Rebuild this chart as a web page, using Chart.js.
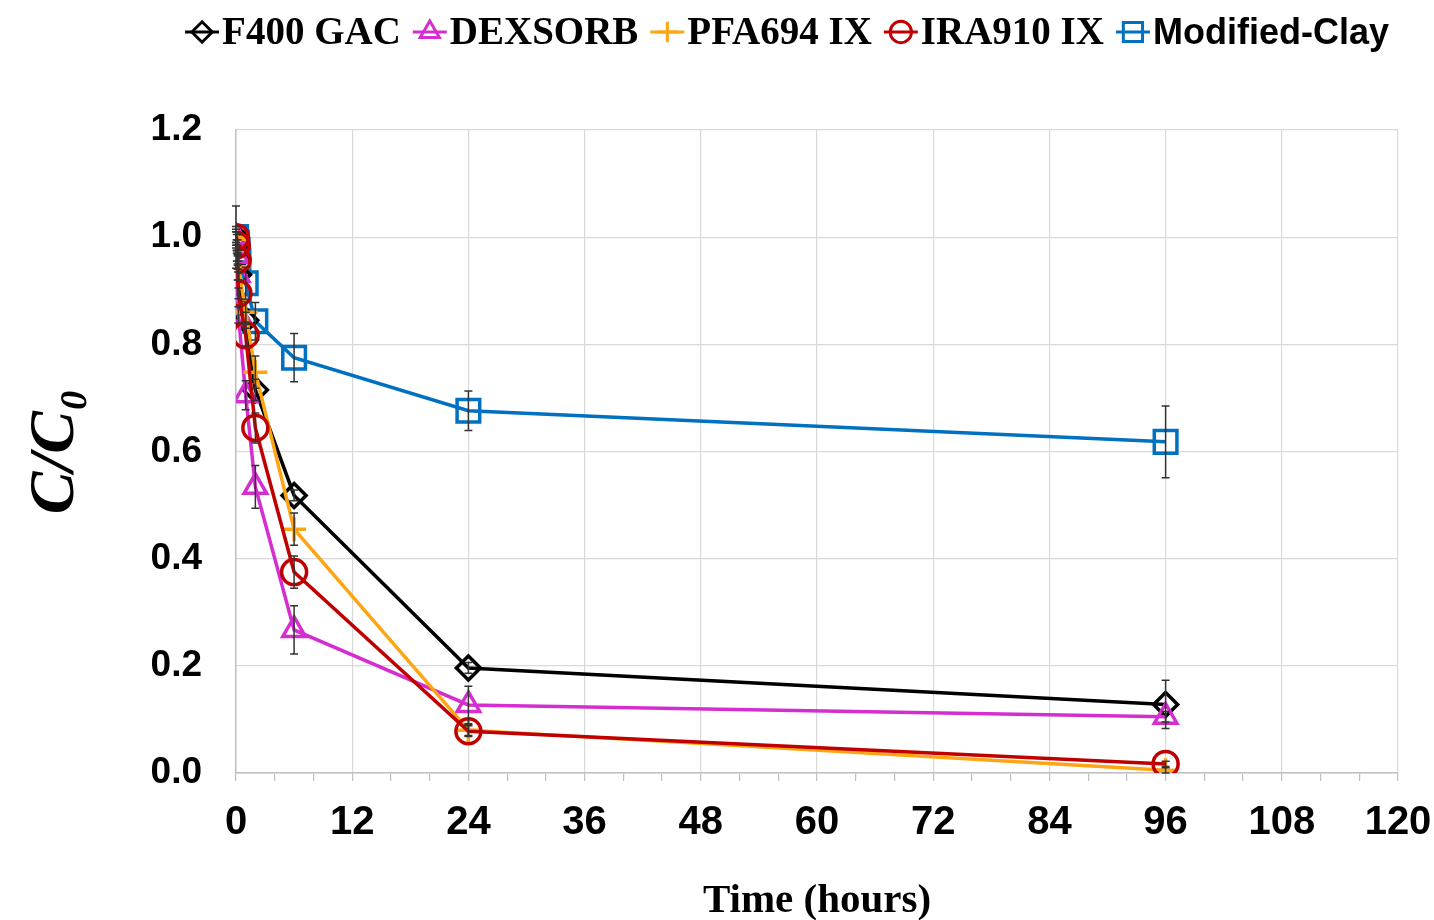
<!DOCTYPE html>
<html>
<head>
<meta charset="utf-8">
<script src="https://cdn.jsdelivr.net/npm/chart.js@4.4.1/dist/chart.umd.min.js"></script>
<style>
    html, body { margin: 0; padding: 0; background: #ffffff; }
    #chart_wrap { width: 1434px; height: 920px; }
</style>
</head>
<body>
<div id="chart_wrap"><canvas id="line_cc0" width="1434" height="920"></canvas></div>
<script>
/****
data
*****/
/* sampling times (hours) */
const times = [0, 0.083, 0.167, 0.25, 1, 2, 6, 24, 96];
/* C/C0 per adsorbent */
const f400Gac     = [1.000, 0.985, 0.960, 0.930, 0.845, 0.715, 0.518, 0.196, 0.128];
const dexsorb     = [1.000, 0.965, 0.930, 0.855, 0.705, 0.534, 0.267, 0.127, 0.105];
const pfa694      = [1.000, 0.995, 0.975, 0.945, 0.860, 0.748, 0.455, 0.080, 0.005];
const ira910      = [1.000, 0.985, 0.957, 0.895, 0.817, 0.644, 0.375, 0.078, 0.017];
const modClay     = [1.000, 0.990, 0.975, 0.955, 0.914, 0.843, 0.775, 0.676, 0.618];
/* error bars (+/-) */
const f400GacErr  = [0.020, 0.010, 0.010, 0.010, 0.015, 0.020, 0.010, 0.010, 0.045];
const dexsorbErr  = [0.015, 0.010, 0.010, 0.015, 0.027, 0.040, 0.045, 0.035, 0.010];
const pfa694Err   = [0.010, 0.010, 0.010, 0.010, 0.020, 0.030, 0.030, 0.010, 0.005];
const ira910Err   = [0.010, 0.010, 0.010, 0.010, 0.020, 0.028, 0.030, 0.010, 0.005];
const modClayErr  = [0.058, 0.020, 0.020, 0.020, 0.030, 0.035, 0.045, 0.037, 0.067];
/* labels */
const seriesNames = ['F400 GAC', 'DEXSORB', 'PFA694 IX', 'IRA910 IX', 'Modified-Clay'];
const xTicks      = [0, 12, 24, 36, 48, 60, 72, 84, 96, 108, 120];
const yTicks      = [0.0, 0.2, 0.4, 0.6, 0.8, 1.0, 1.2];


/*****
helpers
******/
const serifFont = "'Liberation Serif', 'Times New Roman', serif";
const sansFont  = "'Liberation Sans', Arial, sans-serif";

const toPoints = (vals)=>{
    return times.map((t, i)=>({x: t, y: vals[i]}));
};

const makeSet = (name, vals, errs, color, style, radius, order, legendFont)=>{
    return {
        label: name,
        data: toPoints(vals),
        errors: errs,
        legendFont: legendFont,
        borderColor: color,
        backgroundColor: 'rgba(0,0,0,0)',
        borderWidth: 3.5,
        pointStyle: style,
        pointRadius: radius,
        pointBorderWidth: 3.5,
        pointBorderColor: color,
        pointBackgroundColor: 'rgba(0,0,0,0)',
        tension: 0,
        order: order
    };
};


/*********
error bars
**********/
const errorBars = {
    id: 'errorBars',
    afterDatasetsDraw(chart){
        let ctx = chart.ctx;
        let xs  = chart.scales.x;
        let ys  = chart.scales.y;
        ctx.save();
        ctx.strokeStyle = '#333333';
        ctx.lineWidth   = 1.5;
        chart.data.datasets.forEach((ds)=>{
            ds.data.forEach((p, j)=>{
                let e = ds.errors[j];
                if( !e){ return; };
                let px  = xs.getPixelForValue(p.x);
                let top = ys.getPixelForValue(p.y + e);
                let bot = ys.getPixelForValue(Math.max(p.y - e, 0));
                ctx.beginPath();
                ctx.moveTo(px, top);
                ctx.lineTo(px, bot);
                ctx.moveTo(px - 4, top);
                ctx.lineTo(px + 4, top);
                ctx.moveTo(px - 4, bot);
                ctx.lineTo(px + 4, bot);
                ctx.stroke();
            });
        });
        ctx.restore();
    }
};


/**********************************
legend (line + marker, own fonts)
***********************************/
const topLegend = {
    id: 'topLegend',
    afterDraw(chart, args, opts){
        let ctx     = chart.ctx;
        let iconW   = 34;
        let textGap = 3;
        let itemGap = 12;
        let items   = chart.data.datasets.map((ds)=>{
            ctx.font = ds.legendFont;
            return { ds: ds, w: ctx.measureText(ds.label).width };
        });
        let total = items.reduce((s, it)=> s + iconW + textGap + it.w, 0) + itemGap * (items.length - 1);
        let x = opts.centerX - total / 2;
        let y = opts.centerY;
        ctx.save();
        items.forEach((it)=>{
            let ds = it.ds;
            ctx.strokeStyle = ds.borderColor;
            ctx.lineWidth   = 3;
            ctx.beginPath();
            ctx.moveTo(x, y);
            ctx.lineTo(x + iconW, y);
            ctx.stroke();
            ctx.fillStyle = 'rgba(0,0,0,0)';
            Chart.helpers.drawPoint(ctx, {pointStyle: ds.pointStyle, radius: ds.pointRadius * 0.85, borderWidth: 3, rotation: 0}, x + iconW / 2, y);
            x += iconW + textGap;
            ctx.font         = ds.legendFont;
            ctx.fillStyle    = '#000000';
            ctx.textAlign    = 'left';
            ctx.textBaseline = 'middle';
            ctx.fillText(ds.label, x, y + 2);
            x += it.w + itemGap;
        });
        ctx.restore();
    }
};


/****
chart
*****/
const legendSerif = 'bold 39px ' + serifFont;
const legendSans  = 'bold 36px ' + sansFont;

const datasets = [
    makeSet(seriesNames[0], f400Gac, f400GacErr, '#000000', 'rectRot',  12,   3, legendSerif),
    makeSet(seriesNames[1], dexsorb, dexsorbErr, '#D42ED0', 'triangle', 13,   2, legendSerif),
    makeSet(seriesNames[2], pfa694,  pfa694Err,  '#FFA514', 'cross',    12,   1, legendSerif),
    makeSet(seriesNames[3], ira910,  ira910Err,  '#C00000', 'circle',   12.5, 0, legendSerif),
    makeSet(seriesNames[4], modClay, modClayErr, '#0070C0', 'rect',     16,   4, legendSans)
];

let line_cc0 = document.querySelector('#line_cc0');
let ctx_cc0  = line_cc0.getContext('2d');
let chart_cc0 = new Chart(ctx_cc0, {
    type: 'line',
    data: { datasets: datasets },
    plugins: [errorBars, topLegend],
    options: {
        responsive: false,
        devicePixelRatio: 1,
        animation: false,
        layout: { padding: { top: 130, right: 0, left: 0, bottom: 0 } },
        plugins: {
            tooltip: { enabled: false },
            legend: { display: false },
            topLegend: { centerX: 787, centerY: 32 }
        },
        scales: {
            x: {
                type: 'linear',
                min: 0,
                max: 120,
                afterBuildTicks: (scale)=>{
                    let ticks = [];
                    for(let v = 0; v <= 120; v += 4){ ticks.push({value: v}); };
                    scale.ticks = ticks;
                },
                afterFit: (scale)=>{
                    scale.height       = 147;
                    scale.paddingRight = 36;
                },
                ticks: {
                    autoSkip: false,
                    maxRotation: 0,
                    padding: 18,
                    color: '#000000',
                    font: { family: sansFont, weight: 'bold', size: 40 },
                    callback: (v)=> xTicks.includes(v) ? String(v) : ''
                },
                grid: {
                    color: (c)=> (c.tick && c.tick.value % 12 === 0) ? '#d9d9d9' : 'rgba(0,0,0,0)',
                    tickColor: '#bfbfbf',
                    tickLength: 8,
                    lineWidth: 1.2
                },
                border: { color: '#bfbfbf', width: 1.5 },
                title: {
                    display: true,
                    text: 'Time (hours)',
                    color: '#000000',
                    padding: { top: 51, bottom: -2 },
                    font: { family: serifFont, weight: 'bold', size: 41, lineHeight: 1 }
                }
            },
            y: {
                min: 0,
                max: 1.2,
                afterBuildTicks: (scale)=>{
                    scale.ticks = yTicks.map((v)=>({value: v}));
                },
                afterFit: (scale)=>{ scale.width = 236; },
                ticks: {
                    padding: 34,
                    color: '#000000',
                    font: { family: sansFont, weight: 'bold', size: 37 },
                    callback: (v)=> Number(v).toFixed(1)
                },
                grid: {
                    color: '#d9d9d9',
                    drawTicks: false,
                    lineWidth: 1.2
                },
                border: { color: '#bfbfbf', width: 1.5 },
                title: {
                    display: true,
                    text: 'C/C\u2080',
                    color: '#000000',
                    padding: { top: 18, bottom: 0 },
                    font: { family: serifFont, style: 'italic', weight: 'bold', size: 64 }
                }
            }
        }
    }
});
</script>
</body>
</html>
